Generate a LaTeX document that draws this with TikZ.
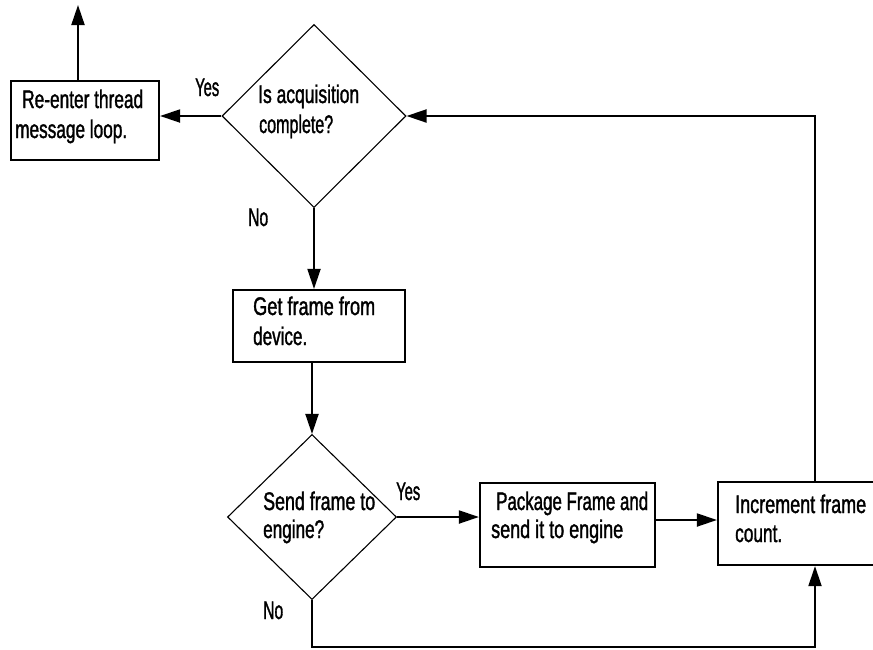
\documentclass[tikz,border=0pt]{standalone}
\usepackage{graphicx}
\usepackage{fontspec}
\setmainfont{Liberation Sans}[FakeStretch=0.8,FakeBold=1.5]
\usetikzlibrary{arrows.meta,shapes.geometric}
% set a line of text to a given width, keeping its height
\newcommand\linew[2]{\resizebox{#1}{\height}{#2}}
\begin{document}
\begin{tikzpicture}[x=1pt,y=-1pt,
  every node/.style={font=\fontsize{25.5}{30}\selectfont},
  stepbox/.style={draw,line width=2.2pt,rectangle,inner sep=0pt},
  decision/.style={draw,line width=1.1pt,diamond,inner sep=0pt},
  flow/.style={line width=2pt,-{Triangle[length=20pt,width=13pt]}},
  txt/.style={anchor=base west,inner sep=0pt}]
  \useasboundingbox (0,0) rectangle (873,649);
  \clip (0,0) rectangle (873,649);

  % process boxes
  \node[stepbox,minimum width=148pt,minimum height=79pt] (reenter) at (85,120.5) {};
  \node[stepbox,minimum width=172pt,minimum height=72pt] (getframe) at (319,326) {};
  \node[stepbox,minimum width=175pt,minimum height=84pt] (package) at (567.5,525) {};
  \node[stepbox,minimum width=194pt,minimum height=83pt] (increment) at (815,523.5) {};

  % decisions
  \node[decision,minimum width=184pt,minimum height=183pt] (done) at (314,116) {};
  \node[decision,minimum width=169pt,minimum height=165pt] (send) at (312,517) {};

  % text lines
  \node[txt] (reenter-a) at (22,108) {\linew{121pt}{Re-enter thread}};
  \node[txt] (reenter-b) at (15,138) {\linew{112pt}{message loop.}};
  \node[txt] (done-a) at (258,103) {\linew{101pt}{Is acquisition}};
  \node[txt] (done-b) at (259,133) {\linew{74pt}{complete?}};
  \node[txt] (getframe-a) at (253,315) {\linew{122pt}{Get frame from}};
  \node[txt] (getframe-b) at (253,345) {\linew{54pt}{device.}};
  \node[txt] (send-a) at (263,510) {\linew{112pt}{Send frame to}};
  \node[txt] (send-b) at (263,538) {\linew{61pt}{engine?}};
  \node[txt] (package-a) at (496,510) {\linew{152pt}{Package Frame and}};
  \node[txt] (package-b) at (491,538) {\linew{132pt}{send it to engine}};
  \node[txt] (increment-a) at (735,513) {\linew{131pt}{Increment frame}};
  \node[txt] (increment-b) at (735,542) {\linew{47pt}{count.}};

  % free ends
  \coordinate (exit) at (78,5);
  \coordinate (lowrun) at (0,647);

  % connectors
  \draw[flow] (reenter.north -| exit) -- (exit);
  \draw[flow] (done.west) -- (done.west -| reenter.east);
  \draw[flow] (done.south) -- (done.south |- getframe.north);
  \draw[flow] (getframe.south -| send.north) -- (send.north);
  \draw[flow] (send.east) -- (send.east -| package.west);
  \draw[flow] ([yshift=5pt]package.east) -- ([yshift=5pt]package.east -| increment.west);
  \draw[flow] (increment.north) |- (done.east);
  \draw[flow] (send.south) -- (send.south |- lowrun) -| (increment.south);

  % branch labels
  \node[txt] (yes1) at (195,96) {\linew{24pt}{Yes}};
  \node[txt] (no1) at (248,226) {\linew{20pt}{No}};
  \node[txt] (yes2) at (396,500) {\linew{24pt}{Yes}};
  \node[txt] (no2) at (263,619) {\linew{20pt}{No}};
\end{tikzpicture}
\end{document}
